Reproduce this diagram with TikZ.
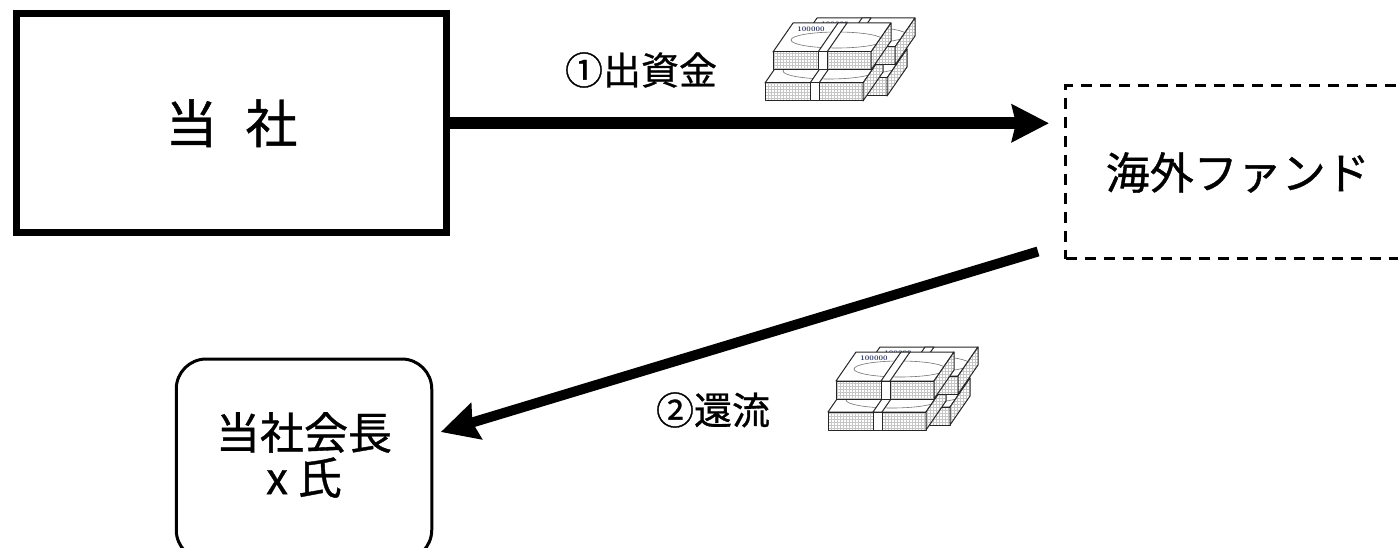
\documentclass[tikz,border=0pt]{standalone}
\usepackage{fontspec}
\newfontfamily\jp[FakeBold=0.8]{Noto Sans CJK JP}
\usetikzlibrary{arrows.meta,patterns,calc}

\tikzset{
  bundleline/.style={draw=black!85, line width=1pt, line join=round},
  hatchface/.style={bundleline, preaction={fill=white}, pattern=grid, pattern color=gray!45},
  billmark/.style={draw=black!55, line width=0.6pt},
  notelabel/.style={inner sep=0pt, text={rgb,255:red,35;green,45;blue,85},
    font=\bfseries\fontsize{7}{7}\selectfont},
  solidbox/.style={draw, line width=7pt, inner sep=0pt},
  fundbox/.style={draw, line width=3pt, dash pattern=on 11pt off 8pt, inner sep=0pt},
  personbox/.style={draw, line width=3pt, rounded corners=30pt, inner sep=0pt},
  flow/.style={line width=#1, -{Stealth[length=37pt, width=37pt, inset=4pt]}},
  flowlabel/.style={inner sep=0pt, font=\jp\fontsize{38}{38}\selectfont},
}

% one bundle of notes; (#1,#2) is the top-left corner of its front face
\newcommand\moneybundle[2]{%
  \begin{scope}[shift={(#1,#2)}]
    \filldraw[bundleline, fill=white] (0,0) -- (98,0) -- (118,-29) -- (20,-29) -- cycle;
    \draw[billmark] (64,-12) ellipse [x radius=46, y radius=8];
    \filldraw[bundleline, fill=white] (45,0) -- (54,0) -- (74,-29) -- (65,-29) -- cycle;
    \node[notelabel] at (38,-23) {100000};
    \path[hatchface] (0,0) rectangle (98,18);
    \filldraw[bundleline, fill=white] (45,0) rectangle (54,18);
    \path[hatchface] (98,0) -- (118,-29) -- (118,-11) -- (98,18) -- cycle;
  \end{scope}}

% four bundles: two stacked in front, two stacked behind
\newcommand\moneystack[2]{%
  \moneybundle{#1+16}{#2+26}
  \moneybundle{#1-8}{#2+31}
  \moneybundle{#1+24}{#2-5}
  \moneybundle{#1}{#2}}

\begin{document}
\begin{tikzpicture}[x=1pt, y=-1pt]
  \useasboundingbox (0,0) rectangle (1398,548);
  \path[clip] (0,0) rectangle (1398,548);
  \fill[white] (0,0) rectangle (1398,548);

  \node[solidbox, minimum width=430pt, minimum height=219.5pt]
    (company) at (231.5,123.25) {\jp\fontsize{52}{52}\selectfont 当\hspace{28pt}社};

  \node[fundbox, minimum width=344.5pt, minimum height=173pt]
    (fund) at (1237.75,172.5) {\jp\fontsize{44}{44}\selectfont 海外ファンド};

  \node[personbox, minimum width=255.5pt, minimum height=201pt]
    (chair) at (304,459.5) {};
  \node[align=center, inner sep=0pt, font=\jp\fontsize{44}{45}\selectfont]
    (chairtext) at (304,455) {当社会長\\x 氏};

  \coordinate (tip1) at ($(fund.west |- company.east)+(-15,0)$);
  \draw[flow=12pt] (company.east) -- (tip1);

  \coordinate (start2) at ($(fund.south west)+(-26,-9)$);
  \coordinate (tip2) at ($(chair.east)+(7.5,-27.5)$);
  \draw[flow=10pt] (start2) -- (tip2);

  \node[flowlabel] (label1) at (641,70) {①出資金};
  \node[flowlabel] (label2) at (713,410) {②還流};

  \moneystack{773}{52}
  \moneystack{836}{381}
\end{tikzpicture}
\end{document}
